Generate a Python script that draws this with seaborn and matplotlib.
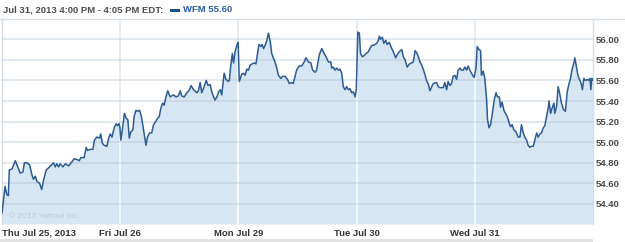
import numpy as np
import pandas as pd
import matplotlib
matplotlib.use("Agg")
import matplotlib.pyplot as plt
import seaborn as sns
from matplotlib.lines import Line2D
from matplotlib.patches import Rectangle

# ---------------- data ----------------
header_text = "Jul 31, 2013 4:00 PM - 4:05 PM EDT:"
ticker = "WFM"
last_price = 55.60
copyright_text = "\u00a9 2013 Yahoo! Inc."

day_labels = ["Thu Jul 25, 2013", "Fri Jul 26", "Mon Jul 29", "Tue Jul 30", "Wed Jul 31"]
session_minutes = 390  # 9:30 - 16:00

# minutes since the open of each session, and prices
thu_min = [0, 10, 16, 21, 24, 33, 44, 52, 60, 69, 74, 82, 91, 99, 104, 110, 115, 124, 131, 137,
           146, 157, 170, 176, 181, 187, 192, 201, 209, 220, 231, 238, 249, 255, 260, 271, 278, 282,
           291, 300, 305, 313, 322, 326, 331, 337, 346, 352, 357, 363, 370, 377, 381, 386, 389]
thu_px = [54.31, 54.57, 54.49, 54.48, 54.73, 54.74, 54.82, 54.76, 54.70, 54.71, 54.80, 54.80,
          54.78, 54.68, 54.64, 54.67, 54.62, 54.60, 54.54, 54.63, 54.73, 54.76, 54.80, 54.76,
          54.79, 54.76, 54.79, 54.76, 54.79, 54.77, 54.81, 54.84, 54.83, 54.82, 54.85, 54.85,
          54.95, 54.92, 54.93, 54.93, 55.02, 55.05, 55.04, 55.08, 54.99, 54.97, 54.96, 55.04,
          55.08, 55.05, 55.14, 55.18, 55.16, 55.18, 55.14]

fri_min = [2, 7, 14, 20, 25, 30, 35, 42, 46, 52, 57, 64, 70, 77, 85, 90, 97, 104, 110, 117,
           123, 129, 134, 140, 145, 151, 157, 165, 170, 176, 184, 192, 198, 203, 211, 220, 229,
           234, 242, 253, 258, 264, 269, 277, 284, 290, 297, 302, 308, 313, 319, 325, 330, 335,
           343, 349, 357, 360, 365, 370, 374, 379, 385, 389]
fri_px = [55.02, 55.12, 55.28, 55.23, 55.22, 55.04, 55.10, 55.12, 55.25, 55.31, 55.30, 55.31,
          55.25, 55.12, 54.97, 55.05, 55.09, 55.09, 55.17, 55.20, 55.23, 55.25, 55.33, 55.38,
          55.36, 55.44, 55.50, 55.44, 55.45, 55.46, 55.44, 55.45, 55.50, 55.45, 55.44, 55.48,
          55.51, 55.55, 55.51, 55.48, 55.50, 55.58, 55.48, 55.54, 55.60, 55.55, 55.56, 55.49,
          55.44, 55.41, 55.44, 55.49, 55.51, 55.46, 55.67, 55.61, 55.59, 55.60, 55.75, 55.86,
          55.77, 55.88, 55.94, 55.97]

mon_min = [3, 11, 17, 22, 28, 33, 39, 45, 52, 58, 63, 68, 74, 78, 83, 88, 94, 99, 105, 110,
           118, 124, 132, 140, 146, 154, 162, 168, 176, 181, 187, 192, 200, 209, 217, 223, 231,
           239, 245, 253, 258, 267, 275, 280, 289, 297, 305, 308, 313, 319, 324, 330, 335, 341,
           346, 352, 357, 363, 368, 374, 379, 385, 389]
mon_px = [55.59, 55.66, 55.67, 55.65, 55.71, 55.70, 55.75, 55.76, 55.77, 55.76, 55.86, 55.95,
          55.93, 55.95, 55.91, 55.94, 55.99, 56.06, 55.98, 55.86, 55.80, 55.75, 55.65, 55.62,
          55.64, 55.64, 55.61, 55.57, 55.58, 55.57, 55.64, 55.70, 55.74, 55.74, 55.78, 55.82,
          55.78, 55.77, 55.70, 55.68, 55.70, 55.85, 55.91, 55.88, 55.83, 55.78, 55.78, 55.72,
          55.73, 55.70, 55.72, 55.70, 55.71, 55.67, 55.54, 55.51, 55.54, 55.51, 55.52, 55.48,
          55.49, 55.44, 55.51]

tue_min = [4, 9, 13, 19, 24, 31, 39, 44, 50, 55, 61, 66, 72, 75, 79, 85, 90, 96, 101, 108,
           113, 121, 129, 134, 141, 149, 154, 160, 167, 174, 182, 187, 193, 198, 204, 209, 215,
           222, 231, 237, 242, 248, 253, 264, 269, 275, 286, 291, 297, 302, 308, 313, 319, 324,
           330, 335, 341, 346, 352, 357, 363, 368, 374, 379, 385, 388]
tue_px = [56.07, 56.06, 55.86, 55.83, 55.84, 55.86, 55.88, 55.91, 55.94, 55.94, 55.95, 55.96,
          55.99, 56.03, 56.00, 56.02, 55.96, 55.99, 55.95, 55.97, 55.93, 55.88, 55.82, 55.85,
          55.88, 55.90, 55.83, 55.80, 55.73, 55.76, 55.77, 55.78, 55.89, 55.87, 55.83, 55.78,
          55.75, 55.69, 55.60, 55.56, 55.50, 55.54, 55.57, 55.58, 55.54, 55.53, 55.53, 55.58,
          55.51, 55.59, 55.55, 55.57, 55.64, 55.65, 55.61, 55.70, 55.72, 55.70, 55.70, 55.73,
          55.70, 55.74, 55.70, 55.67, 55.64, 55.63]

wed_min = [4, 8, 14, 19, 22, 28, 33, 39, 42, 47, 52, 59, 64, 70, 75, 81, 85, 90, 96, 101,
           107, 114, 118, 123, 129, 136, 143, 149, 154, 160, 165, 171, 176, 182, 187, 193, 198,
           204, 209, 215, 220, 226, 231, 237, 242, 245, 250, 255, 261, 264, 270, 275, 281, 286,
           292, 299, 305, 311, 316, 321, 327, 330, 336, 341, 347, 352, 355, 360, 365, 371, 375,
           380, 383, 386, 390]
wed_px = [55.72, 55.93, 55.90, 55.89, 55.65, 55.69, 55.62, 55.41, 55.22, 55.14, 55.17, 55.30,
          55.41, 55.48, 55.44, 55.44, 55.34, 55.39, 55.31, 55.28, 55.25, 55.18, 55.15, 55.17,
          55.12, 55.10, 55.05, 55.05, 55.17, 55.09, 55.05, 55.02, 54.97, 54.95, 54.96, 54.96,
          55.02, 55.09, 55.05, 55.08, 55.09, 55.14, 55.16, 55.25, 55.33, 55.40, 55.28, 55.33,
          55.38, 55.28, 55.35, 55.54, 55.46, 55.38, 55.32, 55.30, 55.49, 55.57, 55.62, 55.71,
          55.77, 55.82, 55.72, 55.64, 55.60, 55.56, 55.51, 55.62, 55.60, 55.61, 55.60, 55.62,
          55.51, 55.62, 55.60]

ytick_values = [54.40, 54.60, 54.80, 55.00, 55.20, 55.40, 55.60, 55.80, 56.00]
y_range = (54.205, 56.197)

# ---------------- build table ----------------
day_minutes = [thu_min, fri_min, mon_min, tue_min, wed_min]
day_prices = [thu_px, fri_px, mon_px, tue_px, wed_px]
frames = []
for i, (m, p) in enumerate(zip(day_minutes, day_prices)):
    frames.append(pd.DataFrame({"t": np.asarray(m) + i * session_minutes, "price": p}))
df = pd.concat(frames, ignore_index=True)
day_starts = [i * session_minutes for i in range(len(day_labels))]

# ---------------- style ----------------
sns.set_style("white")
plt.rcParams['font.family'] = ['Liberation Sans', 'DejaVu Sans']

W, H = 625, 242
fig = plt.figure(figsize=(W / 100, H / 100), dpi=100)
ax = fig.add_axes([2 / W, 1 - 224 / H, 591 / W, 205 / H])

line_color = "#2d5b92"
fill_color = "#d6e6f2"
grid_color = "#dfe6ed"

ax.set_xlim(0, len(day_labels) * session_minutes)
ax.set_ylim(*y_range)

# gray vertical day separators (behind)
ax.vlines(day_starts[1:], *y_range, colors=grid_color, lw=1.1, zorder=0.5)

poly = ax.fill_between(df["t"], df["price"], y_range[0], color=fill_color, lw=0, zorder=1)

# white separators inside the filled area
vl = ax.vlines(day_starts[1:], *y_range, colors="white", lw=1.1, zorder=1.2)
vl.set_clip_path(poly.get_paths()[0], poly.get_transform())

sns.lineplot(data=df, x="t", y="price", ax=ax, color=line_color, lw=1.1,
             estimator=None, sort=False, zorder=3)

# horizontal grid on top of fill
ax.set_yticks(ytick_values)
ax.set_yticklabels([f"{v:.2f}" for v in ytick_values])
ax.yaxis.grid(True, color="#b3c4d6", alpha=0.5, lw=1.1)
ax.xaxis.grid(False)
ax.set_axisbelow(False)

ax.yaxis.tick_right()
ax.tick_params(axis="y", length=0, pad=2.2, labelsize=6.8, labelcolor="#4a4a4a")
for lab in ax.get_yticklabels():
    lab.set_fontweight("bold")

ax.set_xticks(day_starts)
ax.set_xticklabels(day_labels)
ax.tick_params(axis="x", length=0, pad=3.5, labelsize=6.8, labelcolor="#333333")
for i, lab in enumerate(ax.get_xticklabels()):
    lab.set_fontweight("bold")
    if i == 0:
        lab.set_horizontalalignment("left")

ax.set_xlabel("")
ax.set_ylabel("")

for side in ["left", "right"]:
    ax.spines[side].set_color("#d5dce4")
    ax.spines[side].set_linewidth(1.0)
ax.spines["top"].set_visible(False)
ax.spines["bottom"].set_visible(False)

ax.text(7 / 591, (224 - 217) / 205, copyright_text, transform=ax.transAxes,
        fontsize=6, color="#c3cad2", va="center", ha="left", zorder=4)

# header
fig.add_artist(Line2D([0, 1], [1 - 19 / H, 1 - 19 / H], color="#d5dce4", lw=1.0))
fig.text(3 / W, 1 - 10 / H, header_text, fontsize=6.8, fontweight="bold",
         color="#4d4d4d", va="center", ha="left")
fig.add_artist(Rectangle((170 / W, 1 - 12 / H), 10 / W, 3 / H,
                         transform=fig.transFigure, color="#1f4e8c", lw=0))
fig.text(183 / W, 1 - 10 / H, f"{ticker} {last_price:.2f}", fontsize=6.8,
         fontweight="bold", color="#2a5aa0", va="center", ha="left")

# bottom band
fig.add_artist(Rectangle((0, 0), 593 / W, 3 / H, transform=fig.transFigure,
                         color="#e2e2e2", lw=0))

fig.savefig("out.png", dpi=100)
